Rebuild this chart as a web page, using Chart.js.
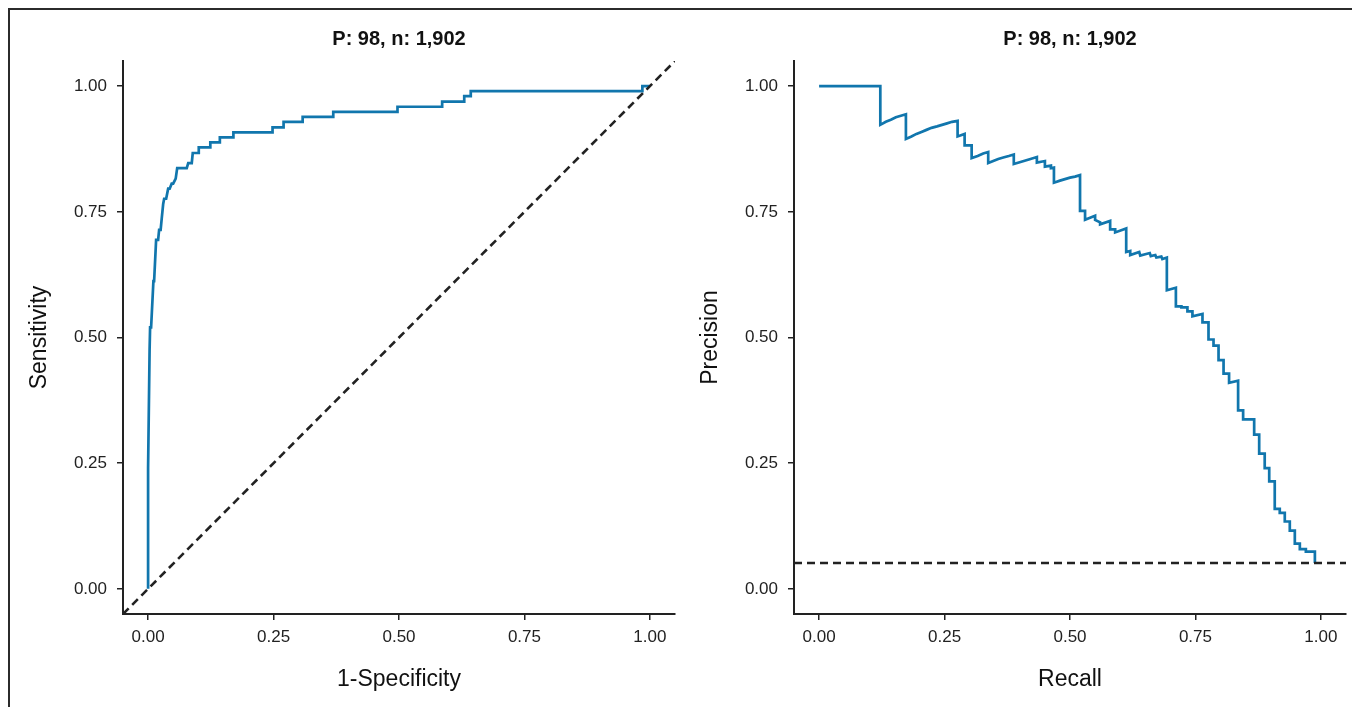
<!DOCTYPE html>
<html>
<head>
<meta charset="utf-8">
<script src="https://cdn.jsdelivr.net/npm/chart.js@4"></script>
<style>
  body { margin: 0; background: #fff; }
  #wrap { position: relative; width: 1352px; height: 707px; overflow: hidden; }
  #frame { position: absolute; left: 8px; top: 8px; width: 1360px; height: 720px;
           border-top: 2px solid #2b2b2b; border-left: 2px solid #2b2b2b; }
  canvas { position: absolute; top: 0; }
  #roc { left: 0; }
  #pr { left: 680px; }
</style>
</head>
<body>
<div id="wrap">
  <div id="frame"></div>
  <canvas id="roc" width="680" height="707"></canvas>
  <canvas id="pr" width="672" height="707"></canvas>
</div>
<script>
// Two panels: ROC curve (left) and precision-recall curve (right)
const panelTitle = 'P: 98, n: 1,902';
const tickVals = [0, 0.25, 0.5, 0.75, 1];

// ROC curve points (1-specificity, sensitivity)
const rocFpr = [0, 0, 0.003, 0.004, 0.006, 0.0106, 0.012, 0.016, 0.020, 0.022, 0.025, 0.027, 0.030, 0.032, 0.036,
  0.040, 0.043, 0.047, 0.050, 0.055, 0.058, 0.077, 0.080, 0.087, 0.089, 0.100, 0.101, 0.124, 0.124, 0.143, 0.143,
  0.170, 0.170, 0.248, 0.248, 0.270, 0.270, 0.308, 0.308, 0.369, 0.369, 0.497, 0.497, 0.586, 0.586, 0.630, 0.630,
  0.643, 0.643, 0.985, 0.985, 1.0];
const rocTpr = [0, 0.24, 0.476, 0.520, 0.520, 0.612, 0.612, 0.694, 0.694, 0.714, 0.714, 0.735, 0.765, 0.776, 0.776,
  0.796, 0.796, 0.806, 0.806, 0.816, 0.837, 0.837, 0.847, 0.847, 0.867, 0.867, 0.878, 0.878, 0.888, 0.888, 0.898,
  0.898, 0.908, 0.908, 0.918, 0.918, 0.929, 0.929, 0.939, 0.939, 0.949, 0.949, 0.959, 0.959, 0.969, 0.969, 0.980,
  0.980, 0.990, 0.990, 1.0, 1.0];

// chance diagonal
const chanceX = [-0.05, 1.05];
const chanceY = [-0.05, 1.05];

// PR curve points (recall, precision)
const prRecall = [0, 0.122, 0.122, 0.133, 0.143, 0.153, 0.163, 0.173, 0.173, 0.184, 0.194, 0.204, 0.214, 0.224,
  0.235, 0.245, 0.255, 0.265, 0.276, 0.276, 0.290, 0.290, 0.304, 0.304, 0.316, 0.327, 0.337, 0.337, 0.347, 0.357,
  0.367, 0.378, 0.388, 0.388, 0.398, 0.408, 0.418, 0.434, 0.434, 0.450, 0.450, 0.462, 0.462, 0.468, 0.468, 0.480,
  0.490, 0.500, 0.510, 0.520, 0.520, 0.530, 0.530, 0.550, 0.550, 0.560, 0.560, 0.580, 0.580, 0.590, 0.590, 0.612,
  0.612, 0.620, 0.620, 0.638, 0.640, 0.659, 0.661, 0.670, 0.672, 0.682, 0.684, 0.693, 0.693, 0.711, 0.711, 0.722,
  0.722, 0.734, 0.734, 0.744, 0.744, 0.764, 0.764, 0.776, 0.776, 0.786, 0.786, 0.796, 0.796, 0.806, 0.806, 0.817,
  0.817, 0.835, 0.835, 0.845, 0.845, 0.867, 0.867, 0.877, 0.877, 0.888, 0.888, 0.897, 0.897, 0.908, 0.908, 0.918,
  0.918, 0.928, 0.928, 0.938, 0.938, 0.948, 0.948, 0.958, 0.958, 0.970, 0.970, 0.988, 0.988];
const prPrecision = [1.0, 1.0, 0.923, 0.929, 0.933, 0.938, 0.941, 0.944, 0.895, 0.900, 0.905, 0.909, 0.913, 0.917,
  0.920, 0.923, 0.926, 0.929, 0.931, 0.900, 0.905, 0.882, 0.882, 0.857, 0.861, 0.866, 0.869, 0.847, 0.851, 0.855,
  0.858, 0.861, 0.864, 0.845, 0.848, 0.851, 0.854, 0.859, 0.848, 0.851, 0.840, 0.842, 0.837, 0.838, 0.808, 0.812,
  0.815, 0.818, 0.820, 0.823, 0.752, 0.752, 0.734, 0.742, 0.734, 0.729, 0.725, 0.732, 0.715, 0.715, 0.709, 0.717,
  0.670, 0.672, 0.664, 0.670, 0.663, 0.668, 0.662, 0.664, 0.659, 0.661, 0.656, 0.659, 0.594, 0.599, 0.562, 0.562,
  0.560, 0.560, 0.552, 0.552, 0.542, 0.547, 0.530, 0.530, 0.496, 0.496, 0.484, 0.484, 0.455, 0.455, 0.428, 0.428,
  0.410, 0.414, 0.355, 0.355, 0.337, 0.337, 0.307, 0.307, 0.269, 0.269, 0.240, 0.240, 0.214, 0.214, 0.159, 0.159,
  0.151, 0.151, 0.134, 0.134, 0.116, 0.116, 0.090, 0.090, 0.079, 0.079, 0.074, 0.074, 0.0515];

// no-skill baseline (prevalence 98 / 1,902)
const baseX = [-0.05, 1.05];
const baseY = [0.0515, 0.0515];

const FONT = "'Liberation Sans', Arial, sans-serif";
const curveColor = '#1176ad';
const inkColor = '#222';

function toPoints(xs, ys) {
  return xs.map((x, i) => ({ x: x, y: ys[i] }));
}

function dashed(xs, ys) {
  return {
    data: toPoints(xs, ys),
    showLine: true, pointRadius: 0, borderColor: inkColor,
    borderWidth: 2.6, borderDash: [8, 5]
  };
}

function curve(xs, ys) {
  return {
    data: toPoints(xs, ys),
    showLine: true, pointRadius: 0, borderColor: curveColor,
    borderWidth: 2.7, tension: 0
  };
}

function axisOpts(label, isY, boxSize, titlePad) {
  return {
    type: 'linear',
    min: -0.05,
    max: 1.05,
    afterBuildTicks: s => { s.ticks = tickVals.map(v => ({ value: v })); },
    afterFit: s => { if (isY) s.width = boxSize; else s.height = boxSize; },
    ticks: {
      callback: v => v.toFixed(2),
      color: inkColor,
      font: { family: FONT, size: 17 },
      padding: isY ? 10 : 7,
      maxRotation: 0,
      autoSkip: false
    },
    grid: {
      display: true, drawOnChartArea: false, drawTicks: true,
      tickLength: 6, color: inkColor, lineWidth: 1.5
    },
    border: { display: true, color: inkColor, width: 2 },
    title: {
      display: true,
      text: label,
      color: '#111',
      font: { family: FONT, size: 23 },
      padding: isY ? { top: titlePad, bottom: 0 } : { top: 0, bottom: titlePad }
    }
  };
}

function buildPanel(id, datasets, xLabel, yLabel, yAxisWidth, yTitlePad, padRight) {
  return new Chart(document.getElementById(id), {
    type: 'scatter',
    data: { datasets: datasets },
    options: {
      responsive: false,
      animation: false,
      events: [],
      layout: { padding: { left: 8, right: padRight, top: 0, bottom: 0 } },
      plugins: {
        legend: { display: false },
        tooltip: { enabled: false },
        title: {
          display: true,
          text: panelTitle,
          fullSize: false,
          color: '#111',
          font: { family: FONT, size: 20, weight: 'bold' },
          padding: { top: 27, bottom: 10 }
        }
      },
      scales: {
        x: axisOpts(xLabel, false, 93, 14),
        y: axisOpts(yLabel, true, yAxisWidth, yTitlePad)
      }
    }
  });
}

buildPanel('roc', [dashed(chanceX, chanceY), curve(rocFpr, rocTpr)],
  '1-Specificity', 'Sensitivity', 115, 18, 5);
buildPanel('pr', [dashed(baseX, baseY), curve(prRecall, prPrecision)],
  'Recall', 'Precision', 106, 9, 6);
</script>
</body>
</html>
